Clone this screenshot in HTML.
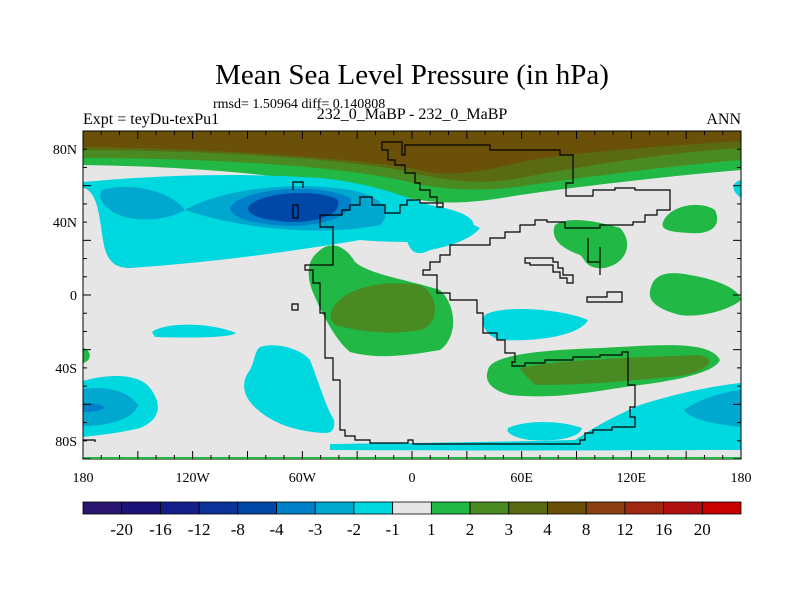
<!DOCTYPE html>
<html><head><meta charset="utf-8"><style>
body{margin:0;background:#fff;}
svg text{font-family:"Liberation Serif",serif;fill:#000;}
</style></head><body>
<svg width="800" height="600" viewBox="0 0 800 600" xmlns="http://www.w3.org/2000/svg">
<text x="412" y="84" font-size="29" text-anchor="middle">Mean Sea Level Pressure (in hPa)</text>
<text x="213" y="108" font-size="14">rmsd= 1.50964 diff= 0.140808</text>
<text x="83" y="124" font-size="16">Expt = teyDu-texPu1</text>
<text x="412" y="119" font-size="16" text-anchor="middle">232_0_MaBP - 232_0_MaBP</text>
<text x="741" y="124" font-size="16" text-anchor="end">ANN</text>
<defs><clipPath id="pc"><rect x="83" y="131" width="658" height="328"/></clipPath></defs>
<g clip-path="url(#pc)">
<rect x="83" y="131" width="658" height="328" fill="#e6e6e6"/>
<path fill="#22b845" d="M83 131H741V170C680 175 590 185 520 195C480 202 450 205 420 200C360 190 280 168 83 165Z"/>
<path fill="#4a8a22" d="M83 131H741V160C680 165 600 175 530 185C480 193 440 190 400 180C330 165 200 158 83 158Z"/>
<path fill="#5a6a10" d="M83 131H741V148C670 152 590 165 520 178C480 186 440 180 400 170C330 158 200 150 83 150Z"/>
<path fill="#6a5008" d="M83 131H741V141C680 145 600 150 530 160C480 172 450 178 420 170C360 158 200 148 83 147Z"/>
<path fill="#00d8e0" d="M83 182C150 176 230 172 320 178C370 183 400 195 430 205C470 212 480 222 470 232C450 240 420 245 360 240C300 250 220 262 130 268C100 268 105 240 98 210C95 195 88 188 83 188Z"/>
<path fill="#00d8e0" d="M410 210C440 212 470 222 480 228C470 240 450 246 430 250C415 258 408 250 406 235Z"/>
<path fill="#00a8d0" d="M102 190C130 182 170 190 185 210C170 220 130 225 110 210C100 202 98 195 102 190ZM185 210C220 190 290 180 350 190C380 195 395 210 380 225C330 235 250 232 185 210Z"/>
<path fill="#0080c8" d="M230 208C240 188 320 182 350 198C355 212 335 225 290 226C250 224 232 218 230 208Z"/>
<path fill="#0048a8" d="M248 208C255 192 320 188 338 200C342 214 320 222 290 222C260 220 248 215 248 208Z"/>
<path fill="#22b845" d="M318 252C330 240 345 245 355 262C370 275 410 280 440 290C460 310 455 340 440 350C410 355 380 360 350 352C335 340 320 310 312 290C305 270 310 258 318 252Z"/>
<path fill="#4a8a22" d="M335 305C350 285 390 280 420 285C440 295 440 325 420 330C390 335 360 332 335 325C328 318 330 310 335 305Z"/>
<path fill="#22b845" d="M555 225C570 215 600 222 620 228C632 240 630 262 605 268C585 270 585 258 580 255C560 248 550 238 555 225Z"/>
<path fill="#22b845" d="M663 222C670 205 700 200 715 210C722 225 712 235 690 233C670 232 660 230 663 222Z"/>
<path fill="#22b845" d="M650 292C652 275 665 270 690 275C720 280 740 290 741 300C730 310 700 318 680 315C660 310 648 302 650 292Z"/>
<path fill="#22b845" d="M488 370C490 355 540 350 600 348C660 345 710 340 720 360C715 372 680 380 640 385C600 390 560 400 510 395C490 390 484 380 488 370Z"/>
<path fill="#4a8a22" d="M520 368C560 360 620 358 700 355C720 360 705 372 680 376C640 380 590 385 535 385C528 378 522 372 520 368Z"/>
<path fill="#00d8e0" d="M485 315C500 305 560 308 588 320C580 335 540 342 500 340C484 335 480 322 485 315Z"/>
<path fill="#00d8e0" d="M152 332C165 322 210 322 236 333C230 338 190 338 155 337Z"/>
<path fill="#00d8e0" d="M260 347C275 342 300 348 310 360C318 380 325 405 334 420C335 428 333 433 325 433C300 432 275 425 258 410C240 395 242 380 250 370C255 360 255 350 260 347Z"/>
<path fill="#00d8e0" d="M83 381C110 373 140 374 150 388C163 405 160 420 140 428C120 433 100 435 83 437Z"/>
<path fill="#00a8d0" d="M83 389C110 385 130 393 138 405C135 418 110 426 83 426Z"/>
<path fill="#0080c8" d="M83 403C95 403 104 405 104 408C98 412 90 412 83 412Z"/>
<path fill="#00d8e0" d="M330 444C420 443 500 442 575 440C590 430 610 418 640 405C680 392 720 385 741 383V450C650 450 500 451 330 450Z"/>
<path fill="#00d8e0" d="M508 428C525 420 560 420 582 428C580 438 555 442 530 440C515 438 505 433 508 428Z"/>
<path fill="#00a8d0" d="M684 410C700 398 725 392 741 390V427C720 425 690 420 684 410Z"/>
<path fill="#00d8e0" d="M741 180C732 182 730 190 741 198Z"/>
<path fill="#22b845" d="M83 348C92 350 92 361 83 363Z"/>
<g fill="none" stroke="#000" stroke-width="1.2">
<path d="M382 150V142H402V155H405V145H490V150H560V155H573V183H566V196H593V190H615V188H635V190H670V210H657V215H645V222H633V225H600V228H565V222H547V220H535V225H520V232H505V238H490V245H450V255H440V262H430V270H423V275H437V293H450V300H477V313H483V333H497V340H505V353H515V362H512V366H525V363H545V360H573V357H600V355H622V352H628V385H635V407H630V417H635V427H612V430H593V433H585V440H580V444H413V440H408V443H370V440H355V436H345V430H340V380H333V358H325V313H320V283H313V270H305V265H333V227H320V215H342V210H350V205H360V197H372V205H385V213H400V205H407V200H420V203H437V207H443V203H437V197H430V190H420V183H415V173H405V165H395V160H388V150Z"/>
<path d="M293 190V182H303V188"/>
<path d="M293 205V218H298V205Z"/>
<path d="M525 258H553V262H558V268H563V275H573V283H567V278H560V272H553V265H530V263H525Z"/>
<path d="M587 297H607V292H622V302H587Z"/>
<path d="M600 247V275M588 238V262H600"/>
<path d="M292 304H298V310H292Z"/>
<path d="M83 440H95V442"/>
</g>
</g>
<rect x="83" y="131" width="658" height="328" fill="none" stroke="#000" stroke-width="1"/>
<line x1="83" y1="458" x2="741" y2="458" stroke="#22b845" stroke-width="2"/>
<g id="axes"></g>
<g id="cbar"></g>
<script>
const lonTicks=[-180,-120,-60,0,60,120,180];
const lonLabels=["180","120W","60W","0","60E","120E","180"];
const latTicks=[80,40,0,-40,-80];
const latLabels=["80N","40N","0","40S","80S"];
const cbarLevels=["-20","-16","-12","-8","-4","-3","-2","-1","1","2","3","4","8","12","16","20"];
const cbarColors=["#2a1670","#1c1278","#141e88","#0c3498","#0048a8","#0080c8","#00a8d0","#00d8e0","#e6e6e6","#22b845","#4a8a22","#5a6a10","#6a5008","#8a4010","#a02810","#b01010","#c80000"];
const NS="http://www.w3.org/2000/svg";
const X0=83,X1=741,Y0=131,Y1=459;
const xs=l=>X0+(l+180)/360*(X1-X0);
const ys=l=>Y0+(90-l)/180*(Y1-Y0);
function mk(t,a,p){const e=document.createElementNS(NS,t);for(const k in a)e.setAttribute(k,a[k]);p.appendChild(e);return e;}
const ax=document.getElementById('axes');
for(let l=-180;l<=180;l+=10){const x=xs(l),big=l%30===0;
 const t1=mk('line',{x1:x,x2:x,y1:Y1,y2:Y1-(big?8:4),stroke:'#000'},ax);
 const t2=mk('line',{x1:x,x2:x,y1:Y0,y2:Y0+(big?8:4),stroke:'#000'},ax);}
for(let l=-90;l<=90;l+=10){const y=ys(l),big=l%30===0;
 const t1=mk('line',{x1:X0,x2:X0+(big?8:4),y1:y,y2:y,stroke:'#000'},ax);
 const t2=mk('line',{x1:X1,x2:X1-(big?8:4),y1:y,y2:y,stroke:'#000'},ax);}
lonTicks.forEach((l,i)=>{const t=mk('text',{x:xs(l),y:482,'font-size':14,'text-anchor':'middle'},ax);t.textContent=lonLabels[i];
 });
latTicks.forEach((l,i)=>{const t=mk('text',{x:77,y:ys(l)+5,'font-size':14,'text-anchor':'end'},ax);t.textContent=latLabels[i];
 });
const cb=document.getElementById('cbar');const n=cbarColors.length,w=(X1-X0)/n;
cbarColors.forEach((c,i)=>{const r=mk('rect',{x:X0+i*w,y:502,width:w,height:12,fill:c,stroke:'#000','stroke-width':0.8},cb);
 });
cbarLevels.forEach((s,i)=>{const t=mk('text',{x:X0+(i+1)*w,y:535,'font-size':17,'text-anchor':'middle'},cb);t.textContent=s;
 });
</script>
</svg>
</body></html>
